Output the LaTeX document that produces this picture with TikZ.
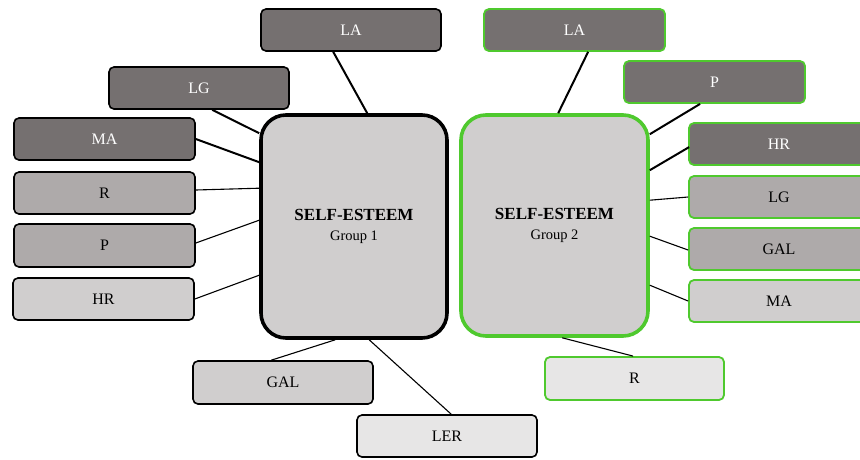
\documentclass[tikz,border=0pt]{standalone}
\usepackage{fontspec}
\setmainfont{Liberation Serif}
\usetikzlibrary{calc}
\definecolor{cdark}{HTML}{757070}
\definecolor{cmid}{HTML}{AEAAAA}
\definecolor{clight}{HTML}{D0CECE}
\definecolor{cvlight}{HTML}{E7E6E6}
\definecolor{mygreen}{HTML}{4FC92E}
\tikzset{
  box/.style={draw=black, line width=1.6pt, rounded corners=5pt, minimum width=180pt, minimum height=42pt, inner sep=0pt, font=\fontsize{16}{19}\selectfont},
  gbox/.style={box, draw=mygreen, line width=1.8pt},
  dark/.style={fill=cdark, text=white},
  mid/.style={fill=cmid},
  light/.style={fill=clight},
  vlight/.style={fill=cvlight},
  core/.style={line width=3.6pt, rounded corners=25pt, fill=clight, inner sep=0pt, align=center, font=\fontsize{14.5}{20}\selectfont},
  lkthick/.style={line width=2pt},
  lkthin/.style={line width=1.1pt},
}
\begin{document}
\begin{tikzpicture}[x=1pt,y=-1pt]
\useasboundingbox (0,0) rectangle (860,459);
\clip (0,0) rectangle (860,459);
% centre boxes
\node[core, draw=black, minimum width=186pt, minimum height=223pt] (C1) at (354,226.5)
  {{\fontsize{17}{20}\selectfont\bfseries SELF-ESTEEM}\\Group 1};
\node[core, draw=mygreen, minimum width=187pt, minimum height=221pt] (C2) at (554.5,225.5)
  {{\fontsize{17}{20}\selectfont\bfseries SELF-ESTEEM}\\Group 2};
% left group
\node[box, dark] (LA1) at (351,30) {LA};
\node[box, dark] (LG1) at (199,88) {LG};
\node[box, dark, minimum width=181pt] (MA1) at (104.5,139) {MA};
\node[box, mid, minimum width=181pt] (R1) at (104.5,193) {R};
\node[box, mid, minimum width=181pt, minimum height=43pt] (P1) at (104.5,245.5) {P};
\node[box, light, minimum width=181pt] (HR1) at (103.5,299) {HR};
\node[box, light, minimum height=43pt] (GAL1) at (283,382.5) {GAL};
\node[box, vlight] (LER1) at (447,436) {LER};
% right group
\node[gbox, dark, minimum width=181pt] (LA2) at (574.5,30) {LA};
\node[gbox, dark, minimum width=181pt] (P2) at (714.5,82) {P};
\node[gbox, dark] (HR2) at (779,144) {HR};
\node[gbox, mid] (LG2) at (779,197) {LG};
\node[gbox, mid] (GAL2) at (779,249) {GAL};
\node[gbox, light] (MA2) at (779,301) {MA};
\node[gbox, vlight, minimum width=179pt, minimum height=43pt] (R2) at (634.5,378.5) {R};
% left connectors
\draw[lkthick] ($(LA1.south west)+(73,0)$) -- ($(C1.north west)+(108,0)$);
\draw[lkthick] ($(LG1.south west)+(104,0)$) -- ($(C1.north west)+(0,20)$);
\draw[lkthick] (MA1.east) -- ($(C1.north west)+(0,49)$);
\draw[lkthin] ($(R1.east)+(0,-3)$) -- ($(C1.north west)+(0,75)$);
\draw[lkthin] ($(P1.east)+(0,-2.5)$) -- ($(C1.north west)+(0,107)$);
\draw[lkthin] (HR1.east) -- ($(C1.north west)+(0,162)$);
\draw[lkthin] ($(GAL1.north west)+(79,0)$) -- ($(C1.south west)+(76,0)$);
\draw[lkthin] ($(C1.south west)+(110,0)$) -- ($(LER1.north west)+(95,0)$);
% right connectors
\draw[lkthick] ($(LA2.south west)+(105,0)$) -- ($(C2.north west)+(99,0)$);
\draw[lkthick] ($(P2.south west)+(77,0)$) -- ($(C2.north east)+(0,21)$);
\draw[lkthick] ($(HR2.north west)+(1,25)$) -- ($(C2.north east)+(0,57)$);
\draw[lkthin] (LG2.west) -- ($(C2.north east)+(0,87)$);
\draw[lkthin] ($(GAL2.west)+(0,1)$) -- ($(C2.north east)+(0,123)$);
\draw[lkthin] ($(MA2.west)+(0,0)$) -- ($(C2.north east)+(0,172)$);
\draw[lkthin] ($(C2.south west)+(103,0)$) -- ($(R2.north west)+(89,0)$);
\end{tikzpicture}
\end{document}
